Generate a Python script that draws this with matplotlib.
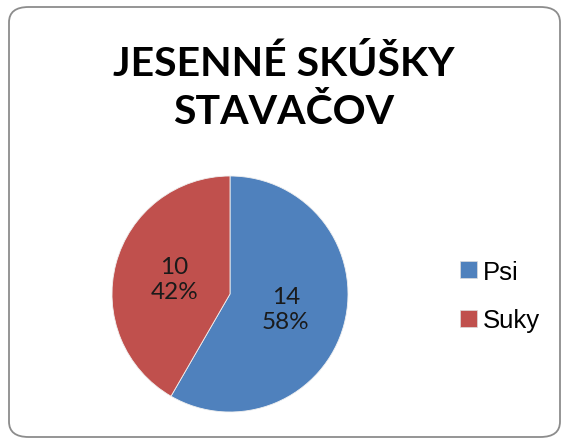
import matplotlib.pyplot as plt
from matplotlib.patches import FancyBboxPatch, Patch

# data
categories = ['Psi', 'Suky']
counts = [14, 10]
colors = ['#4F81BD', '#C0504D']
title = 'JESENNÉ SKÚŠKY\nSTAVAČOV'

W, H = 562, 439
fig = plt.figure(figsize=(W / 100, H / 100), dpi=100)

# rounded chart border
border = FancyBboxPatch((9 / W, 1 / H), 551 / W, 430 / H,
                        boxstyle='round,pad=0,rounding_size=0.035',
                        transform=fig.transFigure, facecolor='none',
                        edgecolor='#8c8c8c', linewidth=1.3, zorder=-1)
fig.patches.append(border)

fig.text(284 / W, 1 - 88 / H, title, ha='center', va='center',
         fontsize=29.5, fontweight='bold', family='Lato', linespacing=1.35)

cx, cy, r = 230, 295, 118
ax = fig.add_axes([(cx - r) / W, (H - cy - r) / H, 2 * r / W, 2 * r / H])
total = sum(counts)


def fmt(pct):
    n = int(round(pct * total / 100))
    return f'{n}\n{pct:.0f}%'


wedges, texts, autotexts = ax.pie(counts, colors=colors, startangle=90,
                                  counterclock=False, autopct=fmt,
                                  pctdistance=0.49, radius=1.0,
                                  wedgeprops=dict(edgecolor='#f0f0f0', linewidth=0.6),
                                  textprops=dict(fontsize=17.5, family='Lato',
                                                 color='#1a1a1a', linespacing=1.2))
ax.set_xlim(-1, 1)
ax.set_ylim(-1, 1)
ax.set_aspect('equal')

handles = [Patch(facecolor=c, edgecolor='#dddddd', linewidth=0.5) for c in colors]
fig.legend(handles, categories, loc='center left',
           bbox_to_anchor=(437 / W, 1 - 297 / H), frameon=False,
           prop=dict(family='Liberation Sans', size=18.5),
           handlelength=0.65, handleheight=0.65, handletextpad=0.25,
           labelspacing=0.95)

fig.savefig('out.png', dpi=100)
